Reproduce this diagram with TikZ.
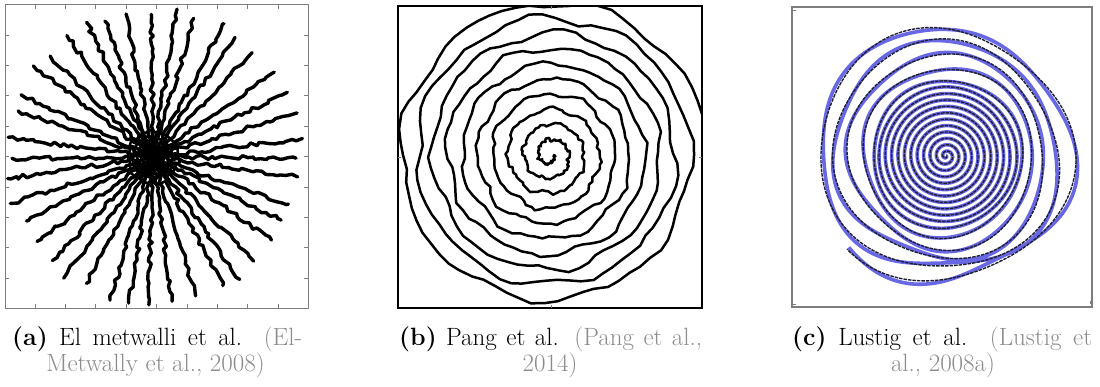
\documentclass[tikz,border=0pt]{standalone}
\usetikzlibrary{decorations.pathmorphing}
\definecolor{citegray}{RGB}{140,140,140}
\definecolor{framegray}{RGB}{125,125,125}
\definecolor{spiralblue}{RGB}{104,104,228}
\definecolor{spiraldark}{RGB}{30,30,55}
\begin{document}
\begin{tikzpicture}[x=1pt,y=-1pt,
  declare function={
    rb(\t)=4+152*(\t/3600)+(0.25+\t/3600)*(2.6*sin(7*mod(\t,360)+0.37*\t)+1.6*sin(11*mod(\t,360)+0.23*\t+50));
    ot(\t)=max(\t/360-12,0);
    wc(\t)=max(\t/360-10,0)/6*(4.5*sin(3*mod(\t,360)+0.2*\t)+3*sin(2*mod(\t,360)+0.13*\t+40));
    rc(\t)=6.4*(\t/360)+6.3*ot(\t)+wc(\t);
    rcb(\t)=rc(\t)+max(\t/360-11,0)/5*(3.5*sin(4*mod(\t,360)+0.31*\t+20));
  },
  spoke/.style={line width=3.4pt, line join=round, line cap=round, decorate,
    decoration={random steps, segment length=4.5pt, amplitude=2.1pt}},
  tickmark/.style={framegray, line width=0.8pt},
  bspiral/.style={black, line width=2.5pt, line join=round},
  cbl/.style={spiralblue, line width=3.6pt, line join=round},
  cdk/.style={spiraldark, line width=1.4pt, dash pattern=on 3.5pt off 1pt},
  captext/.style={inner sep=0pt, font=\fontsize{25}{30}\selectfont},
]
\useasboundingbox (0,0) rectangle (1100,387);
\pgfmathsetseed{42}

% ---------- (a) radial spokes ----------
\begin{scope}
  \clip (5,5) rectangle (308,308);
  \foreach \i in {0,...,39}{
    \pgfmathsetmacro\ang{\i*9+2*rand}
    \pgfmathsetmacro\len{146+5*rand}
    \draw[spoke] (153,157) -- ++(\ang:\len);
  }
  \foreach \r in {5,10,15,20,25}{
    \draw[spoke, line width=2.6pt] (153,157) circle (\r);
  }
\end{scope}
\draw[framegray, line width=1pt] (5,5) rectangle (308,308);
\foreach \k in {0,...,8}{
  \pgfmathsetmacro\p{35+30.4*\k}
  \draw[tickmark] (\p,308) -- ++(0,-4);
  \draw[tickmark] (\p,5) -- ++(0,4);
  \draw[tickmark] (5,\p) -- ++(4,0);
  \draw[tickmark] (308,\p) -- ++(-4,0);
}

% ---------- (b) hand-drawn spiral ----------
\begin{scope}
  \clip (398,6) rectangle (702,308);
  \draw[bspiral] plot[domain=0:3600, samples=700]
    ({550+rb(\x)*cos(\x)+1.3*rand},{155+rb(\x)*sin(\x)+1.3*rand});
\end{scope}
\draw[black, line width=1.2pt] (398,6) rectangle (702,308);
\draw[tickmark] (551,6) -- ++(0,3);
\draw[tickmark] (551,308) -- ++(0,-3);
\draw[tickmark] (398,157) -- ++(3,0);
\draw[tickmark] (702,157) -- ++(-3,0);

% ---------- (c) variable-density spiral ----------
\begin{scope}
  \clip (792,7) rectangle (1092,307);
  \draw[cbl] plot[smooth, domain=0:5894, samples=1900]
    ({946-1.2*ot(\x)+rcb(\x)*cos(\x)},{156-0.9*ot(\x)+rcb(\x)*sin(\x)});
  \draw[cdk] plot[smooth, domain=0:5894, samples=1900]
    ({946-1.2*ot(\x)+rc(\x)*cos(\x)},{156-0.9*ot(\x)+rc(\x)*sin(\x)});
\end{scope}
\draw[framegray, line width=1.5pt] (792,7) rectangle (1092,307);
\draw[tickmark] (793,10) -- ++(3,0);
\draw[tickmark] (793,304) -- ++(3,0);
\draw[tickmark] (1090,304) -- ++(0,-3);

% ---------- captions ----------
\node[captext, anchor=base west] (capa1) at (12,345)
  {\makebox[290pt][s]{\textbf{(a)} El metwalli et al. \textcolor{citegray}{(El-}}};
\node[captext, anchor=base] (capa2) at (155.5,371)
  {\textcolor{citegray}{Metwally et al., 2008)}};
\node[captext, anchor=base west] (capb1) at (399,345)
  {\makebox[303pt][s]{\textbf{(b)} Pang et al. \textcolor{citegray}{(Pang et al.,}}};
\node[captext, anchor=base] (capb2) at (550,371)
  {\textcolor{citegray}{2014)}};
\node[captext, anchor=base west] (capc1) at (792,345)
  {\makebox[300pt][s]{\textbf{(c)} Lustig et al. \textcolor{citegray}{(Lustig et}}};
\node[captext, anchor=base] (capc2) at (943,371)
  {\textcolor{citegray}{al., 2008a)}};
\end{tikzpicture}
\end{document}
